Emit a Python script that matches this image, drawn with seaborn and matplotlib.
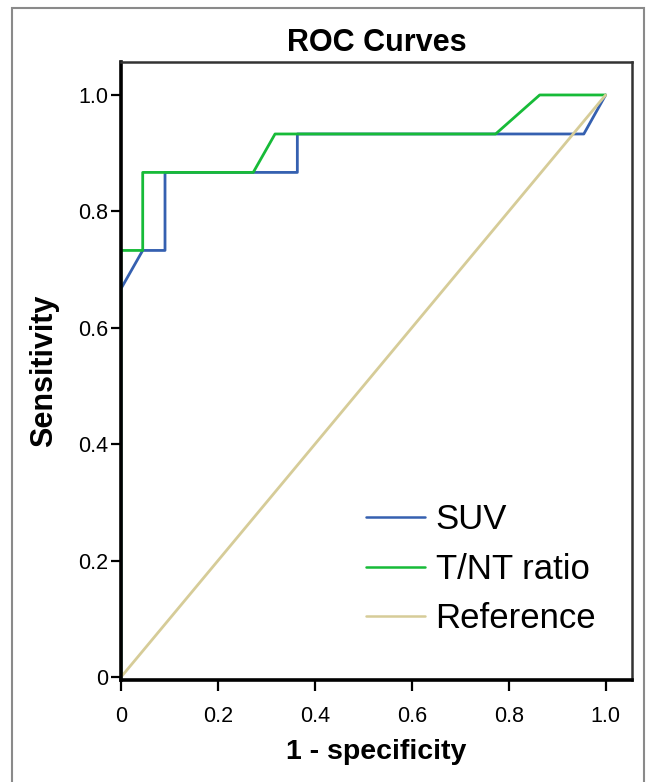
import matplotlib
matplotlib.use("Agg")
import matplotlib.pyplot as plt
from matplotlib.patches import Rectangle
import seaborn as sns
import pandas as pd

# ROC points
suv_fpr = [0.0, 0.0, 0.045, 0.091, 0.091, 0.364, 0.364, 0.955, 1.0]
suv_tpr = [0.0, 0.667, 0.733, 0.733, 0.867, 0.867, 0.933, 0.933, 1.0]
tnt_fpr = [0.0, 0.0, 0.045, 0.045, 0.273, 0.318, 0.773, 0.864, 1.0]
tnt_tpr = [0.0, 0.733, 0.733, 0.867, 0.867, 0.933, 0.933, 1.0, 1.0]
ref_fpr = [0.0, 1.0]
ref_tpr = [0.0, 1.0]

series = ["SUV", "T/NT ratio", "Reference"]
colors = ["#3560b0", "#17bb38", "#d6cc98"]
ticks = [0, 0.2, 0.4, 0.6, 0.8, 1.0]
tick_labels = ["0", "0.2", "0.4", "0.6", "0.8", "1.0"]

df = pd.concat([
    pd.DataFrame({"fpr": suv_fpr, "tpr": suv_tpr, "curve": series[0]}),
    pd.DataFrame({"fpr": tnt_fpr, "tpr": tnt_tpr, "curve": series[1]}),
    pd.DataFrame({"fpr": ref_fpr, "tpr": ref_tpr, "curve": series[2]}),
], ignore_index=True)

sns.set_style("white")
plt.rcParams["font.family"] = ["Liberation Sans", "DejaVu Sans"]
plt.rcParams["text.color"] = "black"
plt.rcParams["axes.labelcolor"] = "black"
plt.rcParams["xtick.color"] = "black"
plt.rcParams["ytick.color"] = "black"

fig = plt.figure(figsize=(6.5, 7.82), dpi=100)
ax = fig.add_axes([0.186, 0.131, 0.786, 0.790])

sns.lineplot(data=df, x="fpr", y="tpr", hue="curve", hue_order=series,
             palette=dict(zip(series, colors)), sort=False, estimator=None,
             linewidth=2.0, ax=ax)

ax.set_xlim(0, 1.054)
ax.set_ylim(-0.004, 1.057)
ax.set_xticks(ticks)
ax.set_xticklabels(tick_labels)
ax.set_yticks(ticks)
ax.set_yticklabels(tick_labels)
ax.tick_params(axis="both", direction="out", length=8, width=1.6,
               color="black", labelsize=15.5, left=True, bottom=True, pad=11)
ax.tick_params(axis="y", pad=2, length=7)

for side in ["top", "right"]:
    ax.spines[side].set_color("#333333")
    ax.spines[side].set_linewidth(1.8)
for side in ["left", "bottom"]:
    ax.spines[side].set_color("black")
    ax.spines[side].set_linewidth(2.6)

ax.set_xlabel("1 - specificity", fontsize=20.5, fontweight="bold", labelpad=9)
ax.set_ylabel("Sensitivity", fontsize=22, fontweight="bold", labelpad=14)
ax.set_title("ROC Curves", fontsize=22, fontweight="bold", pad=8)

leg = ax.legend(loc="upper left", bbox_to_anchor=(0.48, 0.285), frameon=False,
                fontsize=25, handlelength=1.7, handletextpad=0.3,
                labelspacing=0.47, borderpad=0, borderaxespad=0)
for line in leg.get_lines():
    line.set_linewidth(1.8)

# outer frame around the figure
fig.patches.append(Rectangle((12 / 650, -0.05), (644 - 12) / 650, 1.05 - 8 / 782,
                             transform=fig.transFigure, fill=False,
                             edgecolor="#8a8a8a", linewidth=1.5))

fig.savefig("out.png", dpi=100)
